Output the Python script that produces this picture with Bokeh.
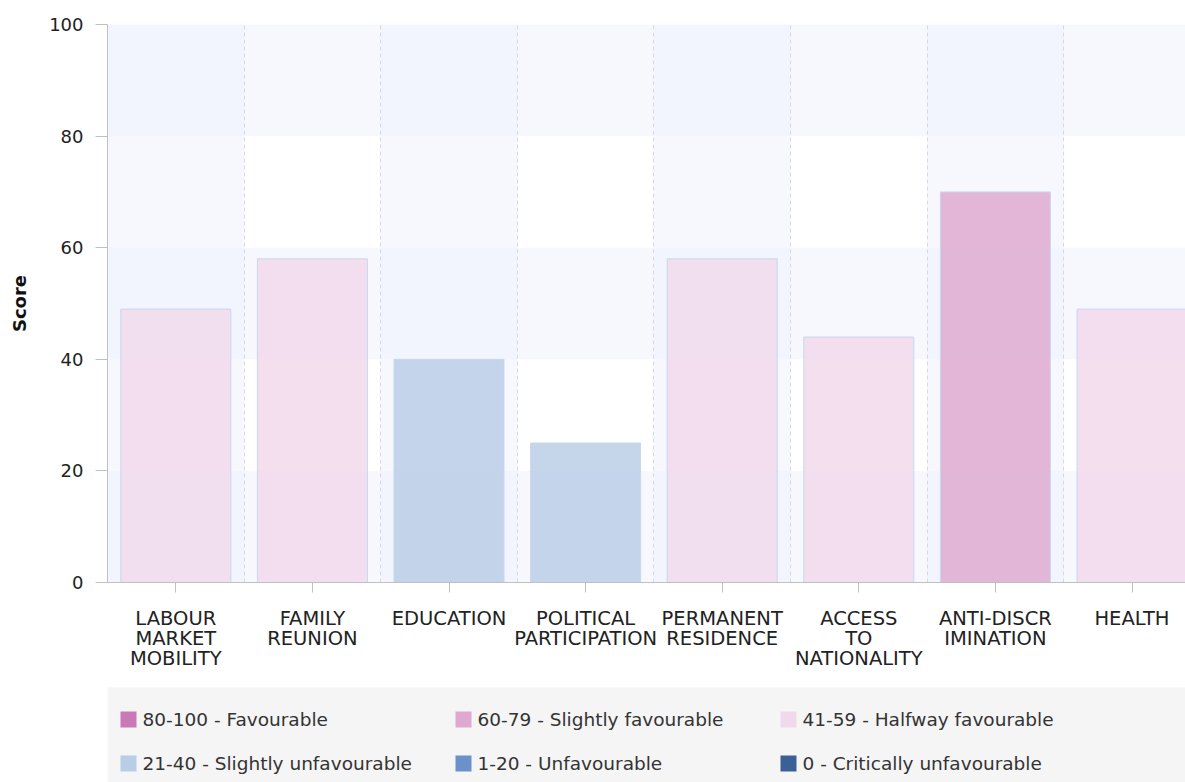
from bokeh.plotting import figure
from bokeh.layouts import column
from bokeh.models import Range1d, FixedTicker, Grid, ColumnDataSource
from bokeh.core.properties import value
from bokeh.embed import file_html
from bokeh.resources import INLINE

# ---- data ----
categories = ["LABOUR\nMARKET\nMOBILITY", "FAMILY\nREUNION", "EDUCATION",
              "POLITICAL\nPARTICIPATION", "PERMANENT\nRESIDENCE", "ACCESS\nTO\nNATIONALITY",
              "ANTI-DISCR\nIMINATION", "HEALTH"]
scores = [49, 58, 40, 25, 58, 44, 70, 49]
y_ticks = [0, 20, 40, 60, 80, 100]
legend_labels = ["80-100 - Favourable", "60-79 - Slightly favourable", "41-59 - Halfway favourable",
                 "21-40 - Slightly unfavourable", "1-20 - Unfavourable", "0 - Critically unfavourable"]
legend_colors = ["#c979b6", "#dfa8cf", "#f1d9eb", "#b9cde6", "#6a91c8", "#3b6098"]

FONT = "DejaVu Sans"


def band_index(v):
    if v >= 80:
        return 0
    if v >= 60:
        return 1
    if v >= 41:
        return 2
    if v >= 21:
        return 3
    if v >= 1:
        return 4
    return 5


n = len(categories)
xs = [i + 0.5 for i in range(n)]
bar_colors = [legend_colors[band_index(v)] for v in scores]

cat_px = 136.6
frame_w = 1078
p = figure(width=1185, height=678,
           x_range=Range1d(0, frame_w / cat_px), y_range=Range1d(0, 100),
           output_backend="svg", toolbar_location=None,
           min_border_left=107, min_border_right=0, min_border_top=24, min_border_bottom=96,
           background_fill_color="white", border_fill_color="white", outline_line_color=None)

# horizontal bands (0-20, 40-60, 80-100); the repeated first tick makes the
# grid's alternate banding start with the first interval
p.ygrid.ticker = FixedTicker(ticks=[y_ticks[0]] + y_ticks)
p.ygrid.grid_line_color = None
p.ygrid.band_fill_color = "#edf1fd"
p.ygrid.band_fill_alpha = 0.5
p.xgrid.visible = False
# vertical dashed separators and alternating column bands
col_edges = list(range(n + 1))
vgrid = Grid(dimension=0, ticker=FixedTicker(ticks=[col_edges[0]] + col_edges),
             grid_line_color="#d8d8e2", grid_line_dash="4 3", grid_line_width=1,
             band_fill_color="#edf1fd", band_fill_alpha=0.5)
p.add_layout(vgrid)

src = ColumnDataSource(dict(x=xs, top=scores, color=bar_colors))
p.vbar(x="x", top="top", bottom=0, width=110 / cat_px, source=src,
       fill_color="color", fill_alpha=0.83, line_color="#c6d8ef", line_width=1)

# y axis
ya = p.yaxis[0]
ya.ticker = FixedTicker(ticks=y_ticks)
ya.axis_line_color = "#c0c0c0"
ya.major_tick_line_color = "#c0c0c0"
ya.major_tick_out = 12
ya.major_tick_in = 0
ya.minor_tick_line_color = None
ya.major_label_standoff = 12
ya.major_label_text_font = FONT
ya.major_label_text_font_size = "18px"
ya.major_label_text_color = "#222222"
ya.axis_label = "Score"
ya.axis_label_text_font = FONT
ya.axis_label_text_font_style = "bold"
ya.axis_label_text_font_size = "18px"
ya.axis_label_text_color = "#111111"
ya.axis_label_standoff = 16

# x axis
xa = p.xaxis[0]
xa.ticker = FixedTicker(ticks=xs)
xa.major_label_overrides = {x: c for x, c in zip(xs, categories)}
xa.axis_line_color = "#c0c0c0"
xa.major_tick_line_color = "#c0c0c0"
xa.major_tick_out = 10
xa.major_tick_in = 0
xa.minor_tick_line_color = None
xa.major_label_standoff = 14
xa.major_label_text_font = FONT
xa.major_label_text_font_size = "19.5px"
xa.major_label_text_line_height = 0.88
xa.major_label_text_color = "#222222"

# ---- legend panel ----
leg = figure(width=1185, height=104, x_range=Range1d(0, frame_w), y_range=Range1d(95, 0),
             output_backend="svg", toolbar_location=None,
             min_border_left=107, min_border_right=0, min_border_top=9, min_border_bottom=0,
             x_axis_type=None, y_axis_type=None,
             background_fill_color="#f5f5f5", border_fill_color="white", outline_line_color=None)
leg.grid.visible = False
col_left = [13, 348, 673]
row_y = [32, 76]
lx, ly, tx = [], [], []
for k in range(len(legend_labels)):
    c = k % 3
    r = k // 3
    lx.append(col_left[c] + 8)
    ly.append(row_y[r])
    tx.append(col_left[c] + 22)
leg.rect(x=lx, y=ly, width=16, height=16, width_units="screen", height_units="screen",
         fill_color=legend_colors, line_color=None)
leg.text(x=tx, y=ly, text=legend_labels, text_font=value(FONT), text_font_size="18.5px",
         text_baseline="middle", text_align="left", text_color="#333333")

layout = column(p, leg, spacing=0)
open("out.html", "w").write(file_html(layout, INLINE))
